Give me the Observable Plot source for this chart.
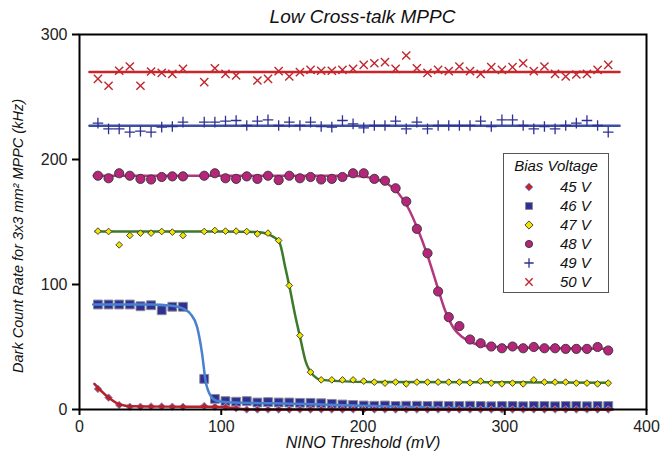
<!DOCTYPE html>
<html>
<head>
<meta charset="utf-8">
<script src="https://cdn.jsdelivr.net/npm/d3@7"></script>
<script src="https://cdn.jsdelivr.net/npm/@observablehq/plot@0.6"></script>
<style>
  body { margin: 0; background: #fff; }
  #wrap { position: relative; width: 661px; height: 458px; font-family: "Liberation Sans", Arial, sans-serif; }
  #chart { position: absolute; left: 0; top: 0; }
  #title { position: absolute; left: 79px; width: 567px; top: 6px; text-align: center; font-style: italic; font-size: 19px; color: #111; z-index: 2; }
  #legend { position: absolute; left: 503px; top: 153px; width: 106px; height: 140px; border: 1px solid #555;
            background: #fff; box-sizing: border-box; font-style: italic; font-size: 15px; color: #111; z-index: 2; }
  #legend .head { position: absolute; left: 0; width: 104px; top: 3px; text-align: center; }
  #legend .row { position: absolute; left: 0; height: 18px; width: 104px; }
  #legend .row svg { position: absolute; left: 17px; top: 1px; }
  #legend .row span { position: absolute; left: 56px; top: 0; line-height: 18px; }
</style>
</head>
<body>
<div id="wrap">
  <div id="chart"></div>
  <div id="title">Low Cross-talk MPPC</div>
  <div id="legend"></div>
</div>
<script>
// NINO threshold settings (mV); the 80.5 mV setting has no reading
const thresholds = [13, 20.5, 28, 35.5, 43, 50.5, 58, 65.5, 73, 80.5,
  88, 95.5, 103, 110.5, 118, 125.5, 133, 140.5, 148, 155.5,
  163, 170.5, 178, 185.5, 193, 200.5, 208, 215.5, 223, 230.5,
  238, 245.5, 253, 260.5, 268, 275.5, 283, 290.5, 298, 305.5,
  313, 320.5, 328, 335.5, 343, 350.5, 358, 365.5, 373];

// Dark count rate (kHz) per bias voltage
const rate45 = [16.5, 9.5, 3.6, 2.2, 2.2, 2.4, 2.4, 2.2, 2.2, null,
  2.8, 2.2, 2.0, 1.0, 0, 0, 0, 0, 0, 0,
  0, 0, 0, 0, 0, 0, 0, 0, 0, 0,
  0, 0, 0, 0, 0, 0, 0, 0, 0, 0,
  0, 0, 0, 0, 0, 0, 0, 0, 0];
const rate46 = [84, 84, 84, 84, 82.6, 83.4, 79.4, 82.2, 82.2, null,
  24.5, 8.5, 6.7, 6.2, 6.7, 5.6, 5.9, 5.6, 5.6, 5.3,
  5.3, 5.0, 4.5, 4.0, 3.6, 3.2, 3.0, 3.2, 2.8, 3.0,
  3.0, 2.8, 3.0, 2.8, 2.8, 3.0, 2.8, 2.6, 2.8, 2.8,
  2.6, 2.8, 2.8, 2.6, 2.8, 2.8, 2.6, 2.8, 2.8];
const rate47 = [142.7, 142.4, 131.7, 139.2, 141.1, 141.1, 142.4, 141.9, 139.2, null,
  142.4, 143.2, 142.7, 142.7, 142.4, 140.5, 141.1, 135.2, 99.2, 59.2,
  29.9, 23.7, 23.7, 23.7, 23.7, 22.7, 21.9, 21.1, 21.9, 20.5,
  21.9, 21.9, 21.9, 21.9, 21.9, 21.4, 22.7, 21.1, 20.5, 21.1,
  20.5, 23.7, 21.9, 21.9, 21.9, 21.1, 21.1, 20.5, 21.1];
const rate48 = [187, 185, 189, 187, 184.5, 184, 186, 186.5, 186.5, null,
  187, 189, 185, 184.5, 186.5, 184.5, 187, 183.5, 187, 185,
  186, 184, 184.5, 186, 189, 189, 184.5, 183, 177, 166.4,
  144.5, 125, 94.4, 73.9, 66.7, 56, 53, 50.4, 49, 50.4,
  49, 50, 49, 49, 48.5, 48.5, 48.5, 50, 47.2];
const rate49 = [229.1, 224.5, 224.5, 221.9, 222.7, 221.9, 225.9, 226.4, 229.9, null,
  229.9, 229.9, 230.7, 231.2, 227.2, 230.7, 231.7, 227.2, 229.9, 227.2,
  229.9, 226.4, 225.9, 231.2, 228.5, 225.3, 227.2, 227.2, 230.7, 224.5,
  229.9, 224.5, 227.2, 227.2, 227.2, 227.2, 230.7, 226.4, 231.7, 231.7,
  227.2, 224.5, 226.4, 224.5, 227.2, 229.1, 231.2, 227.2, 221.9];
const rate50 = [264.5, 259, 271, 274.4, 259, 270.4, 269.3, 268.5, 272.5, null,
  261.9, 273, 268.5, 267.2, null, 263.2, 264.5, 270.7, 266.4, 269.9,
  271.7, 271, 271, 271.7, 272.5, 275.7, 277, 277.9, 272.5, 283.2,
  273, 269.3, 271.7, 270.7, 274.4, 270.7, 268.5, 273.9, 271.7, 273.9,
  277, 270.7, 274.4, 268.5, 266.4, 268, 268.5, 271.7, 275.7];

// Fitted curves, as [threshold, rate] knots
const fit45 = [[10.5, 20.5], [20, 10], [28, 4.2], [37, 2.6], [60, 2.3], [95, 2.2], [105, 1.6],
  [113, 0.6], [122, 0.1], [135, 0], [376, 0]];
const fit46 = [[9.6, 84], [50, 84], [65, 83], [73.6, 80.5], [78.3, 76.5], [83, 65.9], [86.5, 44.5],
  [88.9, 23.2], [92.4, 11.2], [97.1, 6.8], [105, 5.8], [150, 4.6], [171, 4.0], [200, 3.0],
  [263, 1.3], [320, 0.7], [376, 0.5]];
const fit47 = [[11.3, 142.5], [100, 142.5], [125.6, 142], [133.4, 140], [140.9, 134], [145.3, 113],
  [148, 99], [152.4, 74], [155.4, 59], [159.4, 39], [165.3, 27], [170.7, 23.7], [205, 22], [374, 21.5]];
const fit48 = [[10, 187], [190, 187], [200, 186.3], [210, 184], [218, 180], [225, 173], [232, 161],
  [238, 146], [245, 125], [252, 100], [258, 79], [264, 65], [270, 58], [278, 53], [290, 50.5],
  [320, 49.4], [374, 48.6]];
const fit49 = [[7, 227], [381, 227]];
const fit50 = [[7, 270], [381, 270]];

const biasLabels = ["45 V", "46 V", "47 V", "48 V", "49 V", "50 V"];
const xTicks = [0, 100, 200, 300, 400];
const yTicks = [0, 100, 200, 300];
const xLabel = "NINO Threshold (mV)";
const yLabel = "Dark Count Rate for 3x3 mm² MPPC (kHz)";

const points = (rates) => thresholds.map((x, i) => ({x, y: rates[i]})).filter(d => d.y != null);
const fitLine = (knots, stroke) => Plot.line(knots, {x: d => d[0], y: d => d[1], curve: "monotone-x", stroke, strokeWidth: 2.5});

// marker styles, in legend order (legendR: marker radius inside the legend box)
const styles = [
  {symbol: "diamond2", r: 3.4, fill: "#c1272d", stroke: "#7d9ee6", strokeWidth: 1, legendR: 3.7},
  {symbol: "square", r: 5, fill: "#2e3192", stroke: "#8a8a9a", strokeWidth: 1, legendR: 3.9},
  {symbol: "diamond2", r: 3, fill: "#f2e300", stroke: "#333", strokeWidth: 0.9, legendR: 3.7},
  {symbol: "circle", r: 4.6, fill: "#b5267b", stroke: "#333", strokeWidth: 0.9, legendR: 3.6},
  {symbol: "plus", r: 3.5, fill: "none", stroke: "#2e3192", strokeWidth: 1.3, legendR: 3.1},
  {symbol: "times", r: 3.8, fill: "none", stroke: "#c1272d", strokeWidth: 1.4, legendR: 3.4}
];
const dots = (rates, s) => Plot.dot(points(rates), {x: "x", y: "y", symbol: s.symbol, r: s.r, fill: s.fill, stroke: s.stroke, strokeWidth: s.strokeWidth});

const chart = Plot.plot({
  width: 661,
  height: 458,
  marginLeft: 79,
  marginRight: 15,
  marginTop: 34,
  marginBottom: 49,
  style: {fontFamily: "'Liberation Sans', Arial, sans-serif", fontSize: "16px", color: "#222", background: "transparent"},
  x: {domain: [0, 400]},
  y: {domain: [0, 300]},
  marks: [
    fitLine(fit50, "#c8262c"),
    dots(rate50, styles[5]),
    fitLine(fit49, "#3d4fa3"),
    dots(rate49, styles[4]),
    fitLine(fit48, "#b3377f"),
    dots(rate48, styles[3]),
    fitLine(fit47, "#3c7a2a"),
    dots(rate47, styles[2]),
    dots(rate46, styles[1]),
    fitLine(fit46, "#4a80d0"),
    dots(rate45, styles[0]),
    fitLine(fit45, "#b8202a"),
    Plot.frame({stroke: "#000", strokeWidth: 2}),
    Plot.axisX({ticks: xTicks, tickSize: 6, tickPadding: 5, strokeWidth: 2, stroke: "#000", label: null}),
    Plot.axisY({ticks: yTicks, tickSize: 7, tickPadding: 5, strokeWidth: 2, stroke: "#000", label: null}),
    Plot.text([xLabel], {text: d => d, frameAnchor: "bottom", dy: 38, fontStyle: "italic", fontSize: 16, fill: "#111"}),
    Plot.text([yLabel], {text: d => d, frameAnchor: "left", textAnchor: "middle", rotate: -90, dx: -61, dy: 14, fontStyle: "italic", fontSize: 14.5, fill: "#111"})
  ]
});
document.getElementById("chart").append(chart);

// Legend box: "Bias Voltage"
const legend = d3.select("#legend");
legend.append("div").attr("class", "head").text("Bias Voltage");
const symbolTypes = {diamond2: d3.symbolDiamond2, square: d3.symbolSquare, circle: d3.symbolCircle, plus: d3.symbolPlus, times: d3.symbolTimes};
biasLabels.forEach((label, i) => {
  const s = styles[i];
  const row = legend.append("div").attr("class", "row").style("top", (24 + i * 18.9) + "px");
  const svg = row.append("svg").attr("width", 16).attr("height", 16);
  svg.append("path")
    .attr("transform", "translate(8,8)")
    .attr("d", d3.symbol(symbolTypes[s.symbol], Math.PI * s.legendR ** 2)())
    .attr("fill", s.fill)
    .attr("stroke", s.stroke)
    .attr("stroke-width", s.strokeWidth);
  row.append("span").text(label);
});
</script>
</body>
</html>
